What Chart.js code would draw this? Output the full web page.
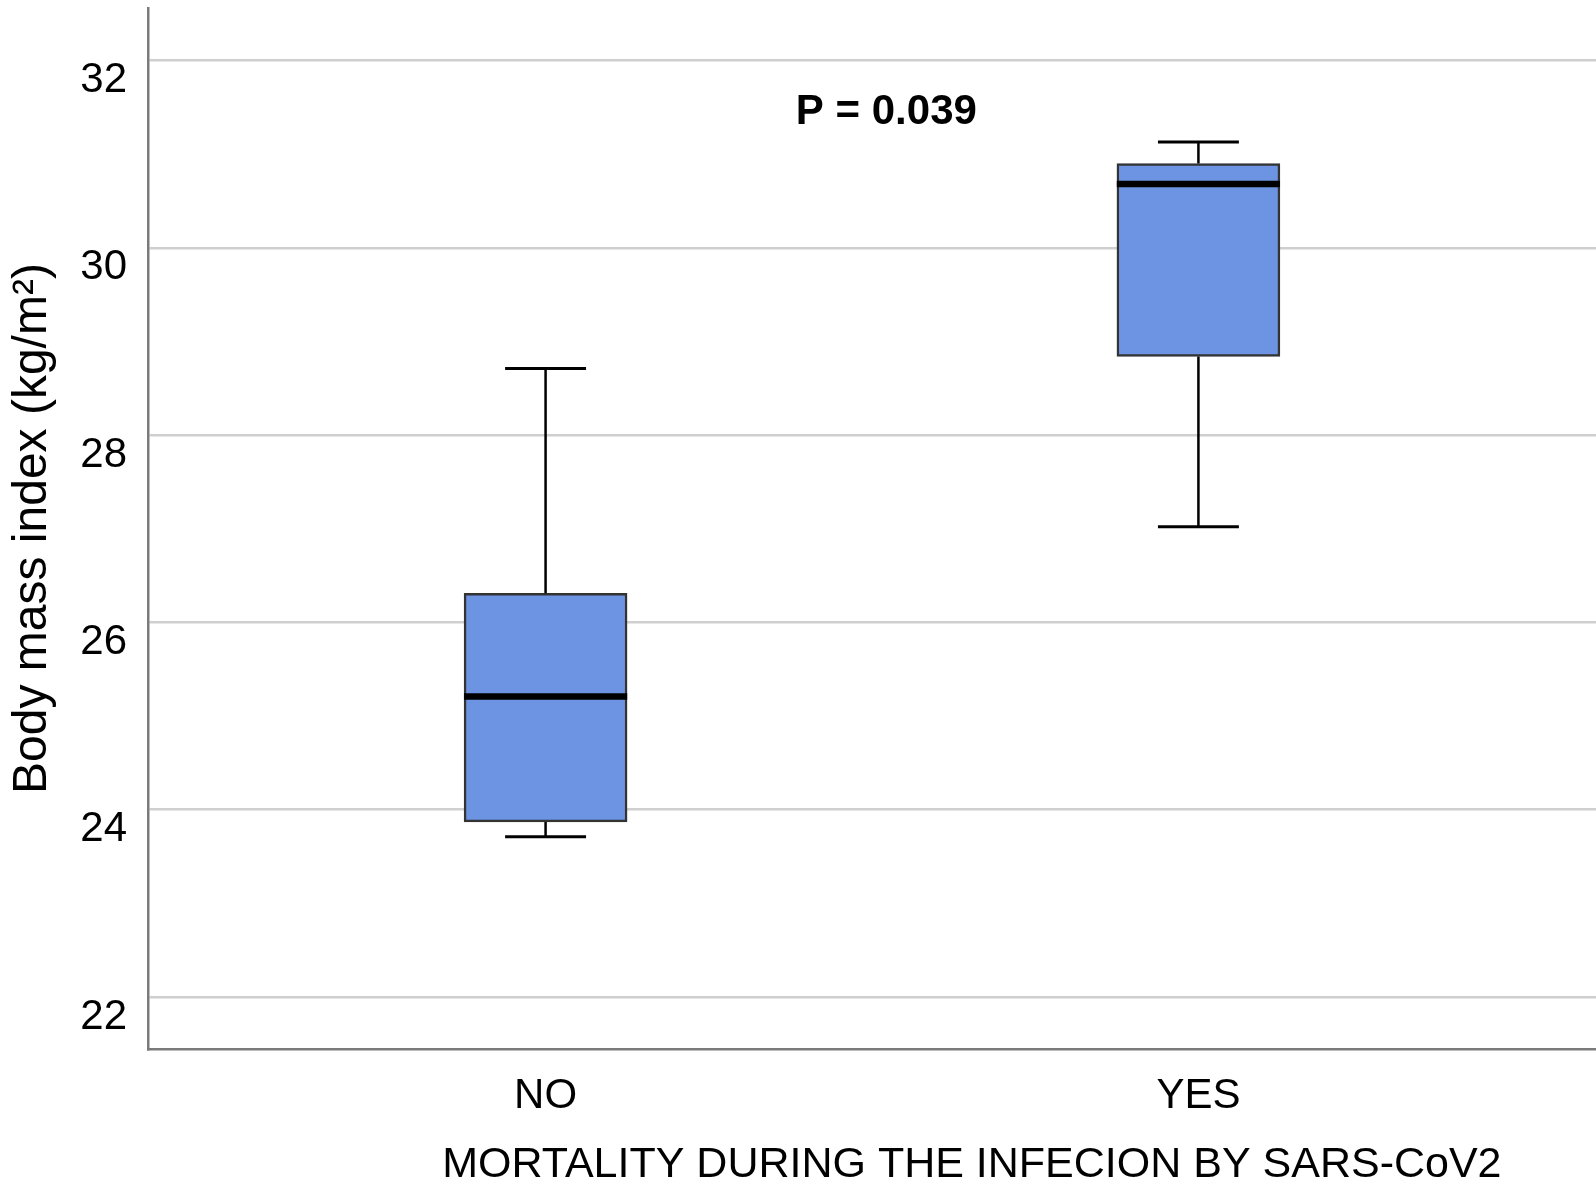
<!DOCTYPE html>
<html>
<head>
<meta charset="utf-8">
<script src="https://cdn.jsdelivr.net/npm/chart.js@4.4.0/dist/chart.umd.min.js"></script>
<style>
  html, body { margin: 0; padding: 0; background: #fff; }
  #wrap { width: 1596px; height: 1184px; }
</style>
</head>
<body>
<div id="wrap"><canvas id="bmiChart"></canvas></div>
<script>
const categories = ['NO', 'YES'];
const minimums   = [23.71, 27.02];
const q1         = [23.87, 28.84];
const medians    = [25.21, 30.68];
const q3         = [26.31, 30.90];
const maximums   = [28.71, 31.13];
const yTicks     = [22, 24, 26, 28, 30, 32];
const pLabel     = 'P = 0.039';
const xTitle     = 'MORTALITY DURING THE INFECION BY SARS-CoV2';
const yTitle     = 'Body mass index (kg/m²)';

const FONT = '"Liberation Sans", Arial, sans-serif';
const BOX_HALF = 0.125;
const CAP_HALF = 0.062;

// line pieces separated by gaps
function pieces(build) {
  const pts = [];
  categories.forEach((c, i) => {
    build(i).forEach(seg => { pts.push(...seg, { x: i, y: null }); });
  });
  return pts;
}

const whiskers = pieces(i => [
  [{ x: i, y: q3[i] }, { x: i, y: maximums[i] }],
  [{ x: i, y: q1[i] }, { x: i, y: minimums[i] }]
]);
const caps = pieces(i => [
  [{ x: i - CAP_HALF, y: maximums[i] }, { x: i + CAP_HALF, y: maximums[i] }],
  [{ x: i - CAP_HALF, y: minimums[i] }, { x: i + CAP_HALF, y: minimums[i] }]
]);
const medianLines = pieces(i => [
  [{ x: i - BOX_HALF, y: medians[i] }, { x: i + BOX_HALF, y: medians[i] }]
]);

const lineStyle = (data, width) => ({
  type: 'line', data, borderColor: '#000', borderWidth: width,
  pointRadius: 0, spanGaps: false, fill: false, order: 1, borderCapStyle: 'butt'
});

const noPadding = s => { s.paddingTop = 0; s.paddingBottom = 0; s.paddingLeft = 0; s.paddingRight = 0; };

const extraText = {
  id: 'extraText',
  afterDraw(chart) {
    const { ctx, scales: { x }, chartArea } = chart;
    ctx.save();
    ctx.fillStyle = '#000';
    ctx.textAlign = 'center';
    ctx.textBaseline = 'alphabetic';
    ctx.font = 'bold 42px ' + FONT;
    ctx.fillText(pLabel, x.getPixelForValue(0.522), 124);
    ctx.font = '43px ' + FONT;
    ctx.fillText(xTitle, chartArea.left + (chartArea.right - chartArea.left) * 0.569, 1177);
    ctx.restore();
  }
};

new Chart(document.getElementById('bmiChart'), {
  type: 'bar',
  data: {
    datasets: [
      {
        type: 'bar',
        data: categories.map((c, i) => ({ x: i, y: [q1[i], q3[i]] })),
        backgroundColor: '#6d94e2',
        borderColor: '#333',
        borderWidth: 2.5,
        borderSkipped: false,
        barThickness: 163,
        order: 2
      },
      lineStyle(whiskers, 2.5),
      lineStyle(caps, 3),
      lineStyle(medianLines, 6.5)
    ]
  },
  options: {
    responsive: true,
    maintainAspectRatio: false,
    animation: false,
    layout: { padding: { top: 8, right: 0, left: 0, bottom: 0 } },
    plugins: { legend: { display: false }, tooltip: { enabled: false } },
    scales: {
      x: {
        type: 'linear',
        offset: false,
        min: -0.609,
        max: 1.609,
        afterBuildTicks: s => { s.ticks = categories.map((c, i) => ({ value: i })); },
        afterFit: s => { s.height = 135; noPadding(s); },
        grid: { display: false, drawTicks: false, offset: false },
        border: { display: true, color: '#7a7a7a', width: 2.5 },
        ticks: {
          padding: 22,
          color: '#000',
          font: { family: FONT, size: 42 },
          callback: v => categories[v]
        }
      },
      y: {
        min: 21.445,
        max: 32.56,
        afterBuildTicks: s => { s.ticks = yTicks.map(v => ({ value: v })); },
        afterFit: s => { s.width = 148; noPadding(s); },
        grid: { color: '#cfcfcf', lineWidth: 2.5, drawTicks: false },
        border: { display: true, color: '#7a7a7a', width: 2.5 },
        ticks: {
          padding: 21,
          labelOffset: 20,
          color: '#000',
          font: { family: FONT, size: 42 }
        },
        title: {
          display: true,
          text: yTitle,
          color: '#000',
          font: { family: FONT, size: 48 },
          padding: { top: 4, bottom: 0 }
        }
      }
    }
  },
  plugins: [extraText]
});
</script>
</body>
</html>
